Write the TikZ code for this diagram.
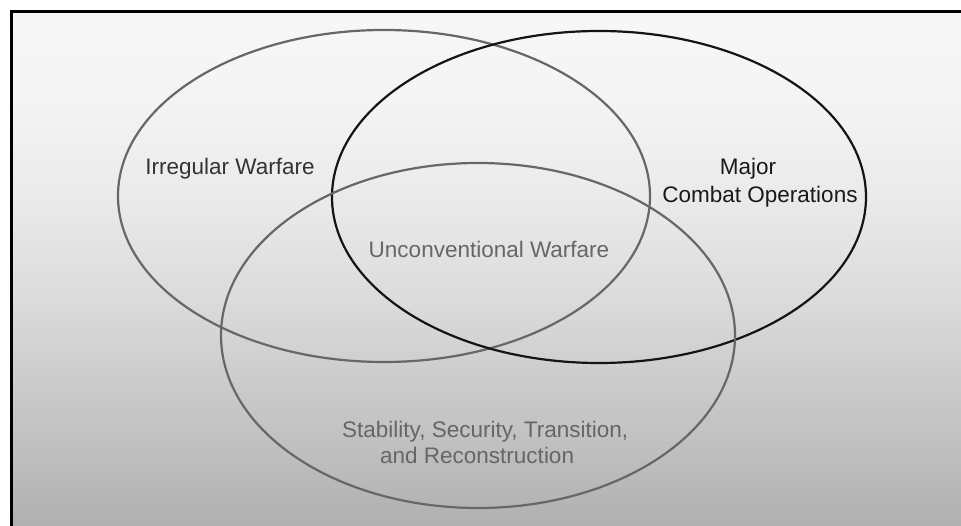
\documentclass[tikz,border=0pt]{standalone}
\usepackage{fontspec}
\setmainfont{Liberation Sans}
\definecolor{g0}{HTML}{B0B0B0}
\definecolor{g1}{HTML}{BFBFBF}
\definecolor{g2}{HTML}{C8C8C8}
\definecolor{g3}{HTML}{DBDBDB}
\definecolor{g4}{HTML}{EAEAEA}
\definecolor{g5}{HTML}{F4F4F4}
\definecolor{g6}{HTML}{F7F7F7}
\definecolor{ringgray}{HTML}{676767}
\definecolor{txtdark}{HTML}{333333}
\definecolor{txtgray}{HTML}{666666}
\pgfdeclareverticalshading{bgshade}{100bp}{color(0bp)=(g0); color(25bp)=(g0); color(32.3bp)=(g1); color(37.2bp)=(g2); color(46.9bp)=(g3); color(56.65bp)=(g4); color(66.4bp)=(g5); color(75bp)=(g6); color(100bp)=(g6)}
\begin{document}
\begin{tikzpicture}[x=1pt,y=1pt,
  ring/.style={line width=2.2pt, draw=ringgray},
  ringdark/.style={line width=2.2pt, draw=black!92},
  lbl/.style={font=\fontsize{22.5}{28}\selectfont, inner sep=0pt, anchor=base}]
\useasboundingbox (0,0) rectangle (961,525);
\shade[shading=bgshade] (11,0) rectangle (961,513.5);
\draw[line width=3pt] (11,-5) -- (11,513.5) -- (975,513.5);
% rings
\draw[ring] (384,329) ellipse [x radius=266, y radius=166];
\draw[ringdark] (599,328) ellipse [x radius=267, y radius=166];
\draw[ring] (478,189.5) ellipse [x radius=257, y radius=172.5];
% labels
\node[lbl, text=txtdark] (irr) at (230,350) {Irregular Warfare};
\node[lbl, text=black!90] (maj) at (748,350) {Major};
\node[lbl, text=black!90] (cmb) at (760,322) {Combat Operations};
\node[lbl, text=txtgray] (unc) at (489,267) {Unconventional Warfare};
\node[lbl, text=txtgray, anchor=base west] (stab) at (342,88) {Stability, Security, Transition,};
\node[lbl, text=txtgray, anchor=base west] (recon) at (380,62) {and Reconstruction};
\end{tikzpicture}
\end{document}
